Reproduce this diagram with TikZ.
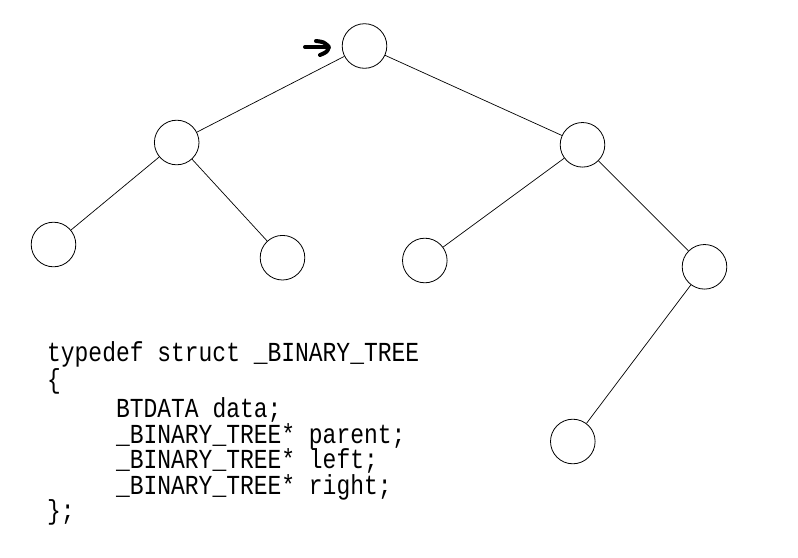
\documentclass[tikz,border=0pt]{standalone}
\usepackage{fontspec}
\newfontfamily\codefont{Liberation Mono}
\begin{document}
\begin{tikzpicture}[x=1pt,y=-1pt,
  treenode/.style={circle,draw,line width=0.8pt,minimum size=44.6pt,inner sep=0pt},
  link/.style={line width=0.7pt},
  codeline/.style={anchor=base west,inner sep=0pt,transform shape,text height=19pt,text depth=4pt,font=\codefont\fontsize{27.5}{27.5}\selectfont},
  marker/.style={line width=4pt,line cap=round,line join=round}]
\useasboundingbox[fill=white] (0,0) rectangle (798,557);
% tree nodes
\node[treenode] (root) at (364.5,46) {};
\node[treenode] (l1)   at (176.7,142.5) {};
\node[treenode] (r1)   at (582.5,144.8) {};
\node[treenode] (ll)   at (53.5,244.5) {};
\node[treenode] (lr)   at (282.5,257.7) {};
\node[treenode] (rl)   at (424.8,260.5) {};
\node[treenode] (rr)   at (704.5,266.8) {};
\node[treenode] (rrl)  at (572.8,441.5) {};
% connectors
\draw[link] (root) -- (l1);
\draw[link] (root) -- (r1);
\draw[link] (l1) -- (ll);
\draw[link] (l1) -- (lr);
\draw[link] (r1) -- (rl);
\draw[link] (r1) -- (rr);
\draw[link] (rr) -- (rrl);
% hand-drawn pointer mark
\draw[marker] (305,47) -- (328,47);
\draw[marker] (316,41) .. controls (324,42) .. (329,47) .. controls (327,52) .. (320,55);
% code
\begin{scope}[shift={(47,361)},xscale=0.835]
\node[codeline] (c1) at (0,0) {typedef struct \_BINARY\_TREE};
\end{scope}
\begin{scope}[shift={(47,388)},xscale=0.835]
\node[codeline] (c2) at (0,0) {\{};
\end{scope}
\begin{scope}[shift={(47,417)},xscale=0.835]
\node[codeline] (c3) at (0,0) {\phantom{xxxxx}BTDATA data;};
\end{scope}
\begin{scope}[shift={(47,443)},xscale=0.835]
\node[codeline] (c4) at (0,0) {\phantom{xxxxx}\_BINARY\_TREE* parent;};
\end{scope}
\begin{scope}[shift={(47,468)},xscale=0.835]
\node[codeline] (c5) at (0,0) {\phantom{xxxxx}\_BINARY\_TREE* left;};
\end{scope}
\begin{scope}[shift={(47,494)},xscale=0.835]
\node[codeline] (c6) at (0,0) {\phantom{xxxxx}\_BINARY\_TREE* right;};
\end{scope}
\begin{scope}[shift={(47,519)},xscale=0.835]
\node[codeline] (c7) at (0,0) {\};};
\end{scope}
\end{tikzpicture}
\end{document}
